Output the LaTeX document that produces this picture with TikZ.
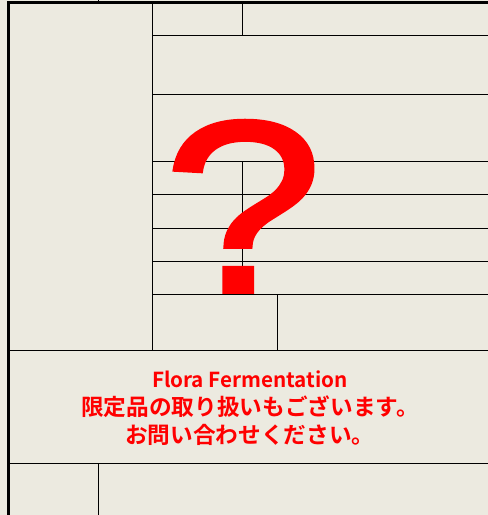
\documentclass[tikz,border=0pt]{standalone}
\usepackage{fontspec}
\newfontfamily\jpfont{Noto Sans CJK JP Bold}
\newfontfamily\qmfont{Liberation Sans}[FakeBold=1.6]
\usetikzlibrary{positioning}
\definecolor{paper}{HTML}{ECEAE0}
\definecolor{notered}{HTML}{FF0000}
\tikzset{
  frame/.style = {line width=2.2pt},
  rule/.style = {line width=0.75pt},
  notice/.style = {text=notered, font=\jpfont\fontsize{17}{21}\selectfont, align=center, inner sep=0pt}
}

\begin{document}
\begin{tikzpicture}[x = 0.75pt, y = -0.75pt]
  \fill[paper] (0,0) rectangle (488,515);
  \useasboundingbox (0,0) rectangle (488,515);
  % outer frame
  \draw[frame] (8.3,515) -- (8.3,2.3) -- (488,2.3);
  \draw[rule] (98.5,0) -- (98.5,2);
  % upper block
  \draw[rule] (152.5,2.3) -- (152.5,350);
  \foreach \y in {35,94.5,161.5,194.5,228,261.3,294}
    \draw[rule] (152.5,\y) -- (488,\y);
  \draw[rule] (242.3,2.3) -- (242.3,35);
  \draw[rule] (242.3,161.5) -- (242.3,294);
  \draw[rule] (277.5,294) -- (277.5,350);
  % lower block
  \draw[rule] (8.3,350) -- (488,350);
  \draw[rule] (8.3,463.3) -- (488,463.3);
  \draw[rule] (98.5,463.3) -- (98.5,515);
  \node[anchor = base, text = notered, inner sep = 0pt, xscale = 1.17,
        font = \qmfont\fontsize{184}{184}\selectfont] (qmark) at (243,292) {?};
  \node[notice] (note) at (250,408) {{\fontsize{15.5}{21}\selectfont Flora Fermentation}\\限定品の取り扱いもございます。\\お問い合わせください。};
\end{tikzpicture}
\end{document}
